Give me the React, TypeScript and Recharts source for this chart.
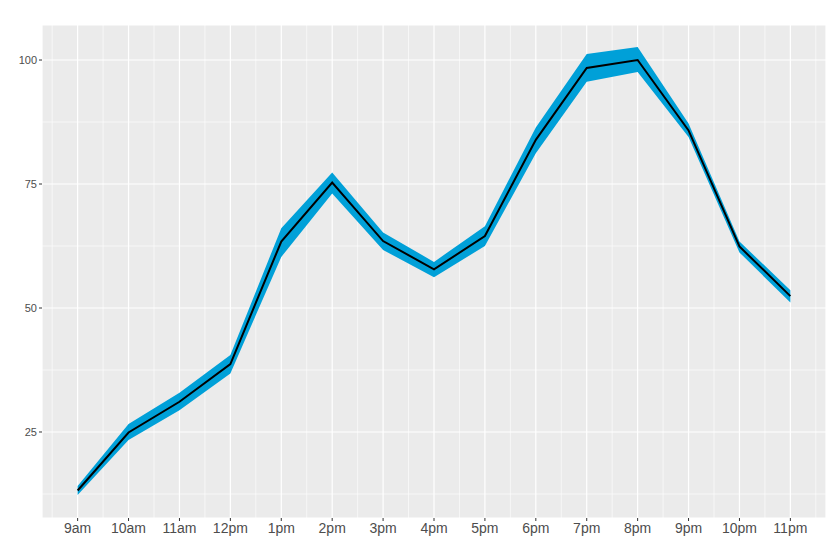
import {
    Area,
    CartesianGrid,
    ComposedChart,
    Line,
    XAxis,
    YAxis,
} from 'recharts';

const hours = ['9am', '10am', '11am', '12pm', '1pm', '2pm', '3pm', '4pm', '5pm', '6pm', '7pm', '8pm', '9pm', '10pm', '11pm'];
const mean = [13.2, 24.9, 31.1, 38.7, 63.4, 75.3, 63.5, 57.8, 64.5, 83.9, 98.4, 100.0, 85.8, 62.4, 52.4];
const lower = [12.3, 23.4, 29.4, 36.8, 60.3, 73.1, 61.7, 56.2, 62.5, 81.2, 95.6, 97.6, 84.5, 61.2, 51.1];
const upper = [14.1, 26.6, 32.9, 40.5, 66.1, 77.3, 65.2, 59.3, 66.5, 86.4, 101.2, 102.6, 87.2, 63.4, 53.6];
const yTicks = [25, 50, 75, 100];
const yMinor = [12.5, 37.5, 62.5, 87.5];

const xTicks = hours.map((_, i) => i + 1);
const xMinor = [0.5, ...xTicks.map((t) => t + 0.5)];

const rows = hours.map((h, i) => ({
    x: i + 1,
    hour: h,
    mean: mean[i],
    band: [lower[i], upper[i]],
}));

const font = '"Liberation Sans", Arial, sans-serif';

const App = () => {
    return (
        <div style={{ position: 'absolute', left: 0, top: 0, width: 830, height: 554, background: '#fff' }}>
            <ComposedChart
                width={830}
                height={554}
                data={rows}
                margin={{ top: 25, right: 4, bottom: 0, left: 0 }}
            >
                <CartesianGrid
                    fill="#EBEBEB"
                    stroke="#FFFFFF"
                    strokeWidth={0.6}
                    horizontalValues={yMinor}
                    verticalValues={xMinor}
                />
                <CartesianGrid fill="none" stroke="#FFFFFF" strokeWidth={1.2} />
                <XAxis
                    dataKey="x"
                    type="number"
                    domain={[0.3, 15.7]}
                    ticks={xTicks}
                    tickFormatter={(v: number) => hours[v - 1]}
                    axisLine={false}
                    tickLine={{ stroke: '#333333' }}
                    tickSize={3}
                    tickMargin={2}
                    height={36}
                    interval={0}
                    tick={{ fill: '#4D4D4D', fontSize: 14, fontFamily: font }}
                />
                <YAxis
                    type="number"
                    domain={[7.66, 107.06]}
                    ticks={yTicks}
                    allowDataOverflow
                    axisLine={false}
                    tickLine={{ stroke: '#333333' }}
                    tickSize={3}
                    tickMargin={2}
                    width={42}
                    tick={{ fill: '#4D4D4D', fontSize: 11, fontFamily: font }}
                />
                <Area
                    dataKey="band"
                    type="linear"
                    fill="#00A0D8"
                    fillOpacity={1}
                    stroke="none"
                    isAnimationActive={false}
                />
                <Line
                    dataKey="mean"
                    type="linear"
                    stroke="#000000"
                    strokeWidth={2}
                    dot={false}
                    isAnimationActive={false}
                />
            </ComposedChart>
        </div>
    );
};

export default App;
